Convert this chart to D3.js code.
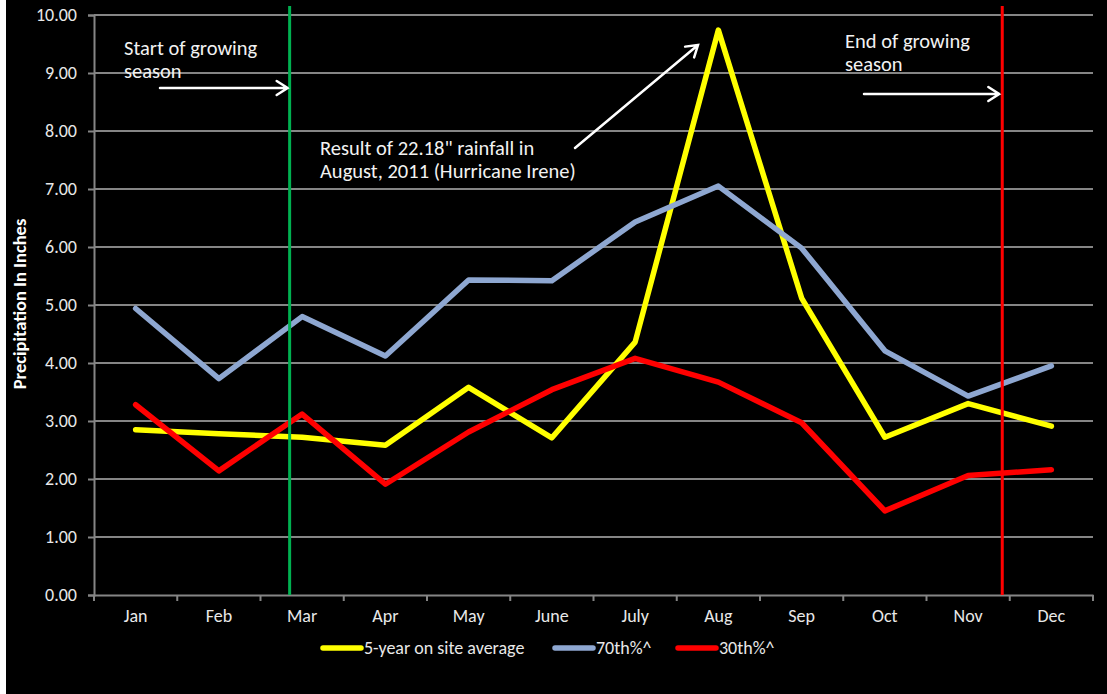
<!DOCTYPE html>
<html>
<head>
<meta charset="utf-8">
<script src="https://cdn.jsdelivr.net/npm/d3@7"></script>
<style>
  html, body { margin: 0; padding: 0; background: #fff; }
  svg { display: block; }
  text { font-family: Carlito, Lato, "Open Sans", sans-serif; }
</style>
</head>
<body>
<svg id="chart" width="1107" height="694"></svg>
<script>
const months = ["Jan","Feb","Mar","Apr","May","June","July","Aug","Sep","Oct","Nov","Dec"];
const avg5yr = [2.85, 2.78, 2.72, 2.58, 3.58, 2.71, 4.36, 9.74, 5.12, 2.72, 3.30, 2.91];
const p70 = [4.94, 3.73, 4.80, 4.12, 5.43, 5.42, 6.43, 7.05, 5.98, 4.21, 3.43, 3.95];
const p30 = [3.28, 2.14, 3.12, 1.91, 2.81, 3.54, 4.08, 3.67, 2.97, 1.45, 2.06, 2.16];
const seriesNames = ["5-year on site average", "70th%^", "30th%^"];
const seriesColors = ["#FFFF00", "#8EA7D1", "#FF0000"];
const yTicks = [0,1,2,3,4,5,6,7,8,9,10];
const seasonMarkers = [ {idx: 1.85, color: "#00B050"}, {idx: 10.41, color: "#FF0000"} ];

const svg = d3.select("#chart");
svg.append("rect").attr("x", 6).attr("y", 0).attr("width", 1101).attr("height", 694).attr("fill", "#000");

const pL = 94, pR = 1093, pT = 15, pB = 595;
const x = d3.scaleBand().domain(months).range([pL, pR]).padding(0);
const xc = m => x(m) + x.bandwidth() / 2;
const xi = d3.scaleLinear().domain([0, 11]).range([xc(months[0]), xc(months[11])]);
const y = d3.scaleLinear().domain([0, 10]).range([pB, pT]);
const FONT = "Carlito, Lato, 'Open Sans', sans-serif";

// gridlines
svg.append("g").selectAll("line").data(yTicks.filter(d => d > 0)).join("line")
  .attr("x1", pL).attr("x2", pR).attr("y1", d => y(d)).attr("y2", d => y(d))
  .attr("stroke", "#858585").attr("stroke-width", 2);

// y axis
const yAxis = svg.append("g").attr("transform", `translate(${pL},0)`)
  .call(d3.axisLeft(y).tickValues(yTicks).tickFormat(d3.format(".2f")).tickSize(6).tickPadding(11));
yAxis.select(".domain").attr("stroke", "#858585").attr("stroke-width", 2);
yAxis.selectAll(".tick line").attr("stroke", "#858585").attr("stroke-width", 2);
yAxis.selectAll("text").attr("fill", "#e8e8e8").style("font-size", "18px").style("font-family", FONT);

// x axis
const xAxis = svg.append("g").attr("transform", `translate(0,${pB})`)
  .call(d3.axisBottom(x).tickSize(0).tickPadding(14));
xAxis.select(".domain").attr("stroke", "#858585").attr("stroke-width", 2);
xAxis.selectAll("text").attr("fill", "#e8e8e8").style("font-size", "18px").style("font-family", FONT);
// boundary tick marks
svg.append("g").selectAll("line").data(months.map(m => x(m)).concat([pR])).join("line")
  .attr("x1", d => d).attr("x2", d => d).attr("y1", pB).attr("y2", pB + 6)
  .attr("stroke", "#858585").attr("stroke-width", 2);

// y axis title
svg.append("text").attr("transform", `translate(26,304) rotate(-90)`)
  .attr("text-anchor", "middle").attr("fill", "#fff").style("font-size", "18.5px").style("font-weight", "bold")
  .text("Precipitation In Inches");

// series
const allSeries = [avg5yr, p70, p30];
const line = d3.line().x((d, i) => xc(months[i])).y(d => y(d));
svg.append("g").selectAll("path").data(allSeries).join("path")
  .attr("d", d => line(d)).attr("fill", "none")
  .attr("stroke", (d, i) => seriesColors[i]).attr("stroke-width", 5.5)
  .attr("stroke-linejoin", "round").attr("stroke-linecap", "round");

// season markers
svg.append("g").selectAll("line").data(seasonMarkers).join("line")
  .attr("x1", d => xi(d.idx)).attr("x2", d => xi(d.idx)).attr("y1", 6).attr("y2", pB)
  .attr("stroke", d => d.color).attr("stroke-width", 3);

// annotations
function arrow(x1, y1, x2, y2) {
  const a = Math.atan2(y2 - y1, x2 - x1), L = 13, s = Math.PI / 5.5;
  const p = `M${x1},${y1}L${x2},${y2}M${x2 - L*Math.cos(a - s)},${y2 - L*Math.sin(a - s)}L${x2},${y2}L${x2 - L*Math.cos(a + s)},${y2 - L*Math.sin(a + s)}`;
  svg.append("path").attr("d", p).attr("fill", "none").attr("stroke", "#fff").attr("stroke-width", 2.5)
    .attr("stroke-linecap", "round").attr("stroke-linejoin", "miter");
}
function label(xp, yp, lines) {
  const t = svg.append("text").attr("fill", "#f2f2f2").style("font-size", "20.5px");
  lines.forEach((s, i) => t.append("tspan").attr("x", xp).attr("y", yp + i * 23).text(s));
}
label(124, 55, ["Start of growing", "season"]);
arrow(160, 88, xi(seasonMarkers[0].idx) - 2, 88);
label(845, 48, ["End of growing", "season"]);
arrow(864, 94, xi(seasonMarkers[1].idx) - 3, 94);
label(320, 155, ["Result of 22.18\" rainfall in", "August, 2011 (Hurricane Irene)"]);
arrow(575, 148, 698, 45);

// legend
const legendX = [323, 555, 678];
const lg = svg.append("g");
seriesNames.forEach((n, i) => {
  lg.append("line").attr("x1", legendX[i]).attr("x2", legendX[i] + 38).attr("y1", 648).attr("y2", 648)
    .attr("stroke", seriesColors[i]).attr("stroke-width", 5.5).attr("stroke-linecap", "round");
  lg.append("text").attr("x", legendX[i] + 41).attr("y", 654).attr("fill", "#e8e8e8")
    .style("font-size", "18px").text(n);
});
</script>
</body>
</html>
